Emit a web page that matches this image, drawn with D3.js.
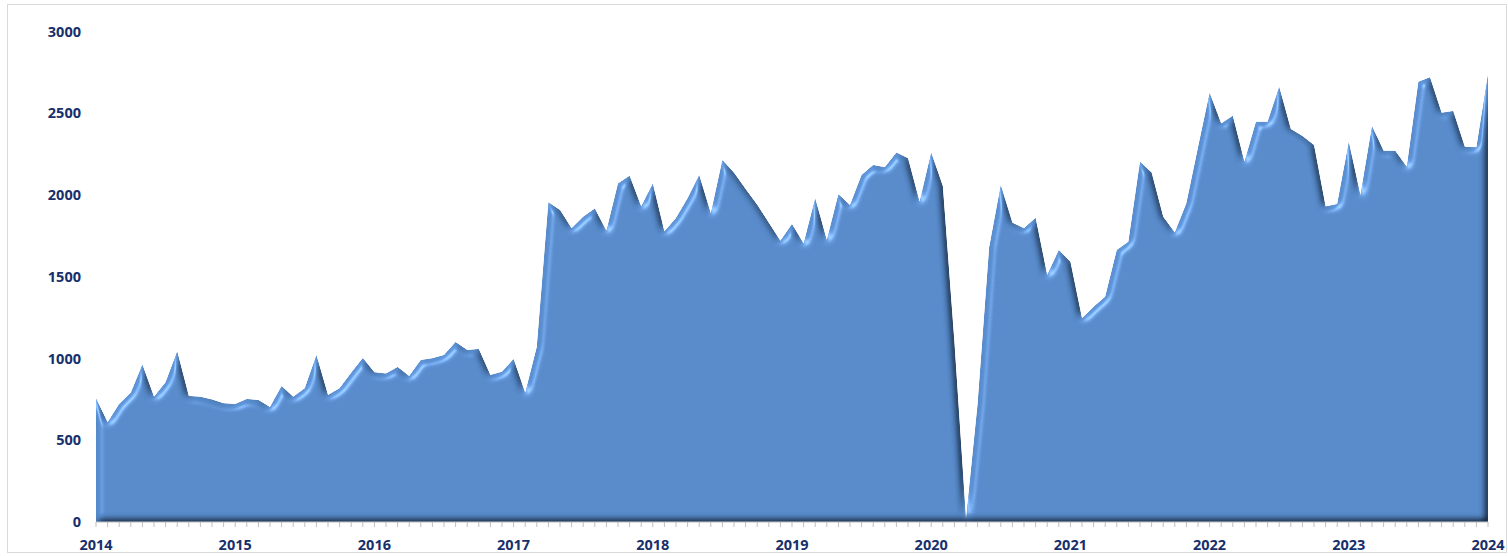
<!DOCTYPE html>
<html lang="en">
<head>
<meta charset="utf-8">
<title>monthly area</title>
<script src="https://cdn.jsdelivr.net/npm/d3@7"></script>
<style>
  body { margin: 0; background: #fff; }
  .lbl { font-family: "Open Sans", sans-serif; font-weight: 700; font-size: 14.5px; fill: #172f6b; }
  .tick line { stroke: #bfbfbf; }
</style>
</head>
<body>
<svg id="chart" width="1508" height="556"></svg>
<script>
// one value per month, Jan 2014 .. Jan 2024
var values2014 = [757, 610, 722, 791, 964, 766, 854, 1044, 771, 766, 750, 726];
var values2015 = [722, 752, 746, 703, 832, 766, 818, 1021, 777, 818, 913, 1003];
var values2016 = [916, 909, 948, 893, 991, 1001, 1021, 1101, 1052, 1058, 899, 919];
var values2017 = [997, 790, 1070, 1955, 1908, 1796, 1867, 1918, 1782, 2071, 2118, 1929];
var values2018 = [2071, 1776, 1860, 1980, 2122, 1888, 2214, 2136, 2036, 1940, 1830, 1720];
var values2019 = [1823, 1704, 1980, 1725, 2004, 1939, 2122, 2183, 2169, 2260, 2225, 1959];
var values2020 = [2260, 2055, 1100, 20, 720, 1680, 2061, 1831, 1796, 1861, 1511, 1664];
var values2021 = [1592, 1246, 1317, 1378, 1664, 1714, 2204, 2137, 1867, 1770, 1949, 2290];
var values2022 = [2626, 2438, 2485, 2204, 2448, 2448, 2662, 2404, 2361, 2306, 1929, 1945];
var values2023 = [2326, 2000, 2422, 2271, 2271, 2173, 2693, 2720, 2503, 2514, 2295, 2292];
var values2024 = [2740];

var years = ["2014","2015","2016","2017","2018","2019","2020","2021","2022","2023","2024"];
var yTicks = [0, 500, 1000, 1500, 2000, 2500, 3000];

var values = [].concat(values2014, values2015, values2016, values2017, values2018,
                       values2019, values2020, values2021, values2022, values2023, values2024);

var svg = d3.select("#chart");

// outer frame
svg.append("rect")
    .attr("x", 7.5).attr("y", 4.5).attr("width", 1499).attr("height", 548)
    .attr("fill", "none").attr("stroke", "#d9d9d9");

var x = d3.scaleLinear().domain([0, values.length - 1]).range([96, 1488]);
var y = d3.scaleLinear().domain([0, 3000]).range([522, 31.5]);

// bevel look: diffuse shading for the dark edges, specular for the light band
var defs = svg.append("defs");
var f = defs.append("filter").attr("id", "bevel")
    .attr("filterUnits", "userSpaceOnUse")
    .attr("x", 0).attr("y", 0).attr("width", 1508).attr("height", 556);
f.append("feGaussianBlur").attr("in", "SourceAlpha").attr("stdDeviation", 3.5).attr("result", "blur");
var diff = f.append("feDiffuseLighting").attr("in", "blur")
    .attr("surfaceScale", 6).attr("diffuseConstant", 1)
    .attr("lighting-color", "#ffffff").attr("result", "light");
diff.append("feDistantLight").attr("azimuth", 225).attr("elevation", 55);
f.append("feComposite").attr("in", "SourceGraphic").attr("in2", "light")
    .attr("operator", "arithmetic").attr("k1", 1.22).attr("k2", 0).attr("k3", 0).attr("k4", 0)
    .attr("result", "shaded");
var spec = f.append("feSpecularLighting").attr("in", "blur")
    .attr("surfaceScale", 6).attr("specularConstant", 0.9).attr("specularExponent", 35)
    .attr("lighting-color", "#a8d0ff").attr("result", "spec");
spec.append("feDistantLight").attr("azimuth", 225).attr("elevation", 40);
f.append("feComposite").attr("in", "spec").attr("in2", "SourceAlpha").attr("operator", "in").attr("result", "specIn");
f.append("feComposite").attr("in", "shaded").attr("in2", "specIn")
    .attr("operator", "arithmetic").attr("k1", 0).attr("k2", 1).attr("k3", 0.6).attr("k4", 0)
    .attr("result", "lit");
f.append("feComposite").attr("in", "lit").attr("in2", "SourceAlpha").attr("operator", "in");

var area = d3.area()
    .x(function(d, i) { return x(i); })
    .y0(y(0))
    .y1(function(d) { return y(d); });

svg.append("path")
    .datum(values)
    .attr("d", area)
    .attr("fill", "#5689c9")
    .attr("filter", "url(#bevel)");

// x axis: monthly ticks, year labels
var xAxis = svg.append("g").attr("class", "tick")
    .attr("transform", "translate(0," + y(0) + ")");
xAxis.append("line")
    .attr("x1", x(0)).attr("x2", x(values.length - 1))
    .attr("stroke", "#bfbfbf");
xAxis.selectAll("line.m")
    .data(d3.range(values.length))
    .enter().append("line").attr("class", "m")
    .attr("x1", function(d) { return x(d); })
    .attr("x2", function(d) { return x(d); })
    .attr("y1", 0).attr("y2", 5);

svg.selectAll("text.xl")
    .data(years)
    .enter().append("text")
    .attr("class", "lbl xl")
    .attr("x", function(d, i) { return x(i * 12); })
    .attr("y", 550)
    .attr("text-anchor", "middle")
    .text(function(d) { return d; });

svg.selectAll("text.yl")
    .data(yTicks)
    .enter().append("text")
    .attr("class", "lbl yl")
    .attr("x", 81)
    .attr("y", function(d) { return y(d) + 5; })
    .attr("text-anchor", "end")
    .text(function(d) { return d; });
</script>
</body>
</html>
